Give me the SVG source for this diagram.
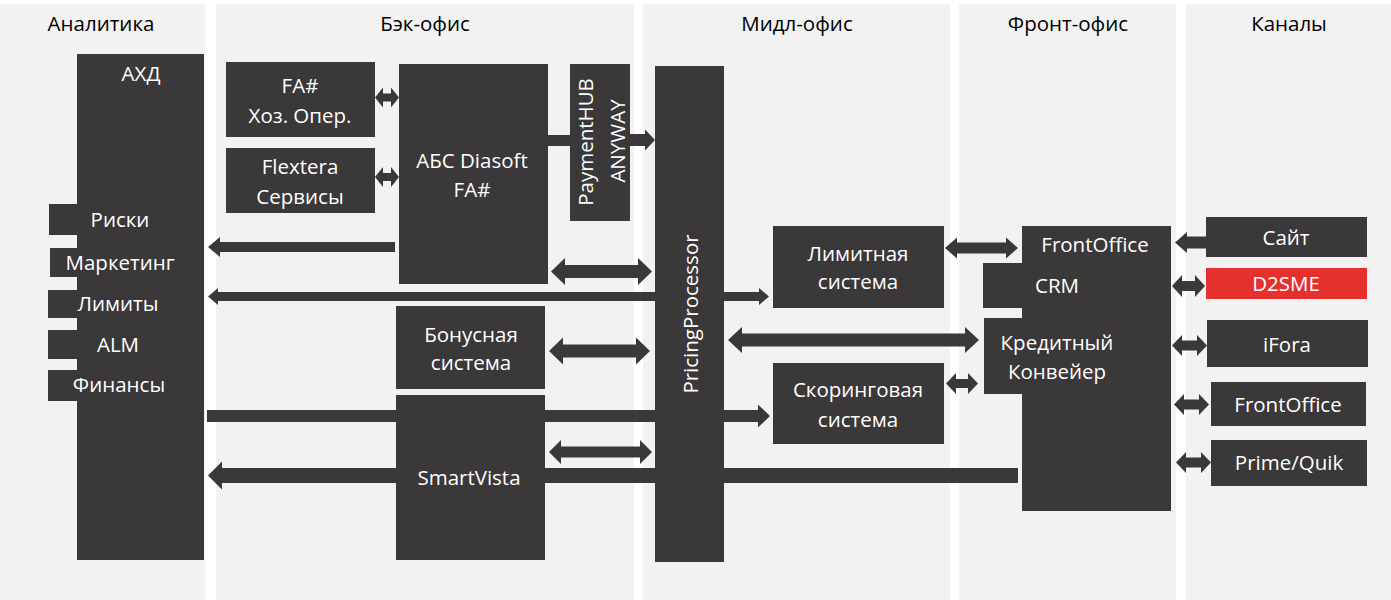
<svg xmlns="http://www.w3.org/2000/svg" width="1391" height="600" viewBox="0 0 1391 600">
<style>
.col{fill:#f2f2f2}
.hdr{font-family:"Open Sans","Noto Sans",sans-serif;font-size:20.5px;fill:#000;text-anchor:middle}
.box{fill:#3a3838}
.red{fill:#e5302e}
.t{font-family:"Open Sans","Noto Sans",sans-serif;font-size:20.5px;fill:#fff;text-anchor:middle}
.conn polygon,.conn rect{fill:#3a3838}
</style>
<rect width="1391" height="600" fill="#fff"/>
<g id="columns">
<rect class="col" x="0" y="4" width="205" height="596"/>
<rect class="col" x="216" y="4" width="418" height="596"/>
<rect class="col" x="643" y="4" width="307" height="596"/>
<rect class="col" x="959" y="4" width="217" height="596"/>
<rect class="col" x="1186" y="4" width="205" height="596"/>
<text class="hdr" x="101" y="31">Аналитика</text>
<text class="hdr" x="425" y="31">Бэк-офис</text>
<text class="hdr" x="797" y="31">Мидл-офис</text>
<text class="hdr" x="1068" y="31">Фронт-офис</text>
<text class="hdr" x="1289" y="31">Каналы</text>
</g>
<g id="connectors" class="conn">
<polygon points="208,247 220,237 220,242 395,242 395,252 220,252 220,257"/>
<polygon points="208,296.5 218,288 218,292 759,292 759,288 769,296.5 759,305 759,301 218,301 218,305"/>
<polygon points="551,271.5 565,258 565,265 638,265 638,258 652,271.5 638,285 638,278 565,278 565,285"/>
<polygon points="549,351 563,337.5 563,344.5 636,344.5 636,337.5 650,351 636,364.5 636,357.5 563,357.5 563,364.5"/>
<polygon points="549,452 561,440 561,446.5 640,446.5 640,440 652,452 640,464 640,457.5 561,457.5 561,464"/>
<polygon points="207,410 758,410 758,404.5 770,416 758,427.5 758,422 207,422"/>
<polygon points="208,475.5 222,461.5 222,468 1018,468 1018,483 222,483 222,489.5"/>
<rect x="548" y="135" width="22" height="11"/>
<polygon points="630,134 645,134 645,129.5 655,140 645,150.5 645,146 630,146"/>
<polygon points="375,97.5 383,87.5 383,93.5 391,93.5 391,87.5 399,97.5 391,107.5 391,101.5 383,101.5 383,107.5"/>
<polygon points="375,177 383,167 383,173 391,173 391,167 399,177 391,187 391,181 383,181 383,187"/>
<polygon points="945,248 957,237.5 957,242.5 1006,242.5 1006,237.5 1018,248 1006,258.5 1006,253.5 957,253.5 957,258.5"/>
<polygon points="728,340 742,327 742,333.5 965,333.5 965,327 979,340 965,353 965,346.5 742,346.5 742,353"/>
<polygon points="946,383.5 956,373 956,379 968,379 968,373 978,383.5 968,394 968,388 956,388 956,394"/>
<polygon points="1175,242.5 1187,232 1187,236.5 1206,236.5 1206,248.5 1187,248.5 1187,253"/>
<polygon points="1172,286 1182,275 1182,281 1195,281 1195,275 1205,286 1195,297 1195,291 1182,291 1182,297"/>
<polygon points="1172,345.5 1182,335 1182,340.5 1197,340.5 1197,335 1207,345.5 1197,356 1197,350.5 1182,350.5 1182,356"/>
<polygon points="1174,404.5 1184,394 1184,399.5 1199,399.5 1199,394 1209,404.5 1199,415 1199,409.5 1184,409.5 1184,415"/>
<polygon points="1176,462.5 1186,452 1186,457.5 1201,457.5 1201,452 1211,462.5 1201,473 1201,467.5 1186,467.5 1186,473"/>
</g>
<g id="ahd"><rect class="box" x="77" y="54" width="127" height="506"/><text class="t" x="141" y="81">АХД</text></g>
<g id="risks"><rect class="box" x="49" y="204" width="30" height="31"/><text class="t" x="120" y="227">Риски</text></g>
<g id="marketing"><rect class="box" x="50" y="248" width="29" height="29"/><text class="t" x="120" y="270">Маркетинг</text></g>
<g id="limits"><rect class="box" x="48" y="290" width="31" height="28"/><text class="t" x="118" y="311">Лимиты</text></g>
<g id="alm"><rect class="box" x="48" y="330" width="31" height="29"/><text class="t" x="118" y="352">ALM</text></g>
<g id="finance"><rect class="box" x="48" y="370" width="31" height="31"/><text class="t" x="119" y="392">Финансы</text></g>
<g id="fa-hoz"><rect class="box" x="226" y="62" width="149" height="75"/><text class="t" x="300" y="93">FA#</text><text class="t" x="300" y="123">Хоз. Опер.</text></g>
<g id="flextera"><rect class="box" x="226" y="148" width="149" height="65"/><text class="t" x="300" y="174">Flextera</text><text class="t" x="300" y="204">Сервисы</text></g>
<g id="abs"><rect class="box" x="399" y="64" width="149" height="220"/><text class="t" x="472" y="168">АБС Diasoft</text><text class="t" x="472" y="197">FA#</text></g>
<g id="paymenthub"><rect class="box" x="570" y="64" width="60" height="157"/><text class="t" transform="translate(593,142) rotate(-90)">PaymentHUB</text><text class="t" transform="translate(625,141) rotate(-90)">ANYWAY</text></g>
<g id="bonus"><rect class="box" x="396" y="306" width="149" height="83"/><text class="t" x="471" y="342">Бонусная</text><text class="t" x="471" y="370">система</text></g>
<g id="smartvista"><rect class="box" x="396" y="395" width="149" height="165"/><text class="t" x="469" y="485">SmartVista</text></g>
<g id="pricing"><rect class="box" x="655" y="66" width="69" height="496"/><text class="t" transform="translate(698,314) rotate(-90)">PricingProcessor</text></g>
<g id="limit-system"><rect class="box" x="773" y="226" width="171" height="82"/><text class="t" x="858" y="261">Лимитная</text><text class="t" x="858" y="289">система</text></g>
<g id="scoring"><rect class="box" x="773" y="363" width="171" height="81"/><text class="t" x="858" y="397">Скоринговая</text><text class="t" x="858" y="427">система</text></g>
<g id="frontoffice-main"><rect class="box" x="1022" y="226" width="149" height="285"/><text class="t" x="1095" y="252">FrontOffice</text></g>
<g id="crm"><rect class="box" x="983" y="263" width="40" height="45"/><text class="t" x="1057" y="293">CRM</text></g>
<g id="credit"><rect class="box" x="984" y="318" width="39" height="76"/><text class="t" x="1057" y="350">Кредитный</text><text class="t" x="1057" y="379">Конвейер</text></g>
<g id="site"><rect class="box" x="1206" y="217" width="161" height="40"/><text class="t" x="1286" y="245">Сайт</text></g>
<g id="d2sme"><rect class="red" x="1206" y="268" width="161" height="31"/><text class="t" x="1286" y="291">D2SME</text></g>
<g id="ifora"><rect class="box" x="1207" y="320" width="161" height="47"/><text class="t" x="1287" y="352">iFora</text></g>
<g id="frontoffice-ch"><rect class="box" x="1211" y="382" width="155" height="44"/><text class="t" x="1288" y="412">FrontOffice</text></g>
<g id="primequik"><rect class="box" x="1211" y="440" width="156" height="46"/><text class="t" x="1289" y="470">Prime/Quik</text></g>
</svg>
